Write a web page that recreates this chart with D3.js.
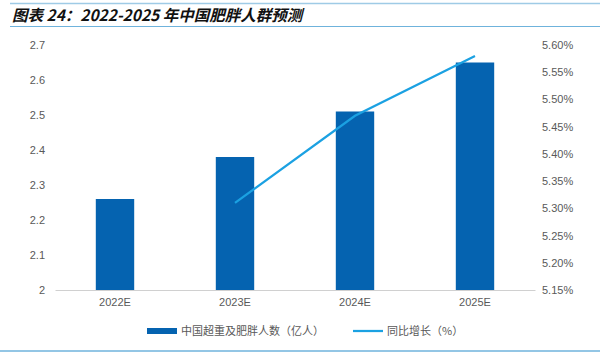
<!DOCTYPE html>
<html><head><meta charset="utf-8">
<script src="https://cdn.jsdelivr.net/npm/d3@7"></script>
<style>body{margin:0;background:#fff;}svg{display:block;font-family:"Liberation Sans",Arial,sans-serif;}</style>
</head><body>
<svg id="c" width="600" height="355"></svg>
<script>
const categories = ["2022E","2023E","2024E","2025E"];
const barValues = [2.26, 2.38, 2.51, 2.65];
const lineCategories = ["2023E","2024E","2025E"];
const lineValues = [5.31, 5.47, 5.58];
const leftTicks = [2,2.1,2.2,2.3,2.4,2.5,2.6,2.7];
const rightTicks = [5.15,5.20,5.25,5.30,5.35,5.40,5.45,5.50,5.55,5.60];
const titleText = "图表 24：2022-2025 年中国肥胖人群预测";
const legendBar = "中国超重及肥胖人数（亿人）";
const legendLine = "同比增长（%）";

const svg = d3.select("#c");
const m = {l:55, r:535, t:45, b:290};
const x = d3.scaleBand().domain(categories).range([m.l, m.r]).paddingInner(0.68).paddingOuter(0.34);
const yL = d3.scaleLinear().domain([2,2.7]).range([m.b, m.t]);
const yR = d3.scaleLinear().domain([5.15,5.60]).range([m.b, m.t]);

// frame lines
svg.append("line").attr("x1",10).attr("x2",600).attr("y1",3.5).attr("y2",3.5).attr("stroke","#9fcbe6").attr("stroke-width",1.5);
svg.append("line").attr("x1",10).attr("x2",600).attr("y1",26.5).attr("y2",26.5).attr("stroke","#6fb3dc").attr("stroke-width",1);
svg.append("line").attr("x1",0).attr("x2",600).attr("y1",351).attr("y2",351).attr("stroke","#6fb3dc").attr("stroke-width",1.5);
svg.append("text").attr("x",12).attr("y",21).attr("font-size",15.5).attr("font-weight","bold").attr("font-style","italic")
  .attr("font-family","'Noto Sans CJK SC','Liberation Sans',sans-serif").attr("fill","#111").text(titleText);

// left axis
const gL = svg.append("g").attr("transform",`translate(${m.l},0)`)
  .call(d3.axisLeft(yL).tickValues(leftTicks).tickSize(0).tickPadding(10).tickFormat(d3.format("")));
gL.select(".domain").remove();
gL.selectAll("text").attr("font-size",11).attr("fill","#595959").attr("font-family","'Liberation Sans',Arial,sans-serif");

// right axis
const gR = svg.append("g").attr("transform",`translate(${m.r},0)`)
  .call(d3.axisRight(yR).tickValues(rightTicks).tickSize(0).tickPadding(7).tickFormat(d=>d.toFixed(2)+"%"));
gR.select(".domain").remove();
gR.selectAll("text").attr("font-size",11).attr("fill","#595959").attr("font-family","'Liberation Sans',Arial,sans-serif");

// bars
svg.append("g").selectAll("rect").data(categories).join("rect")
  .attr("x",d=>x(d)).attr("width",x.bandwidth())
  .attr("y",(d,i)=>yL(barValues[i])).attr("height",(d,i)=>yL(2)-yL(barValues[i]))
  .attr("fill","#0563b0");

// x axis
const gX = svg.append("g").attr("transform",`translate(0,${m.b})`)
  .call(d3.axisBottom(x).tickSize(0).tickPadding(8));
gX.select(".domain").attr("stroke","#d0d0d0");
gX.selectAll("text").attr("font-size",11).attr("fill","#595959").attr("font-family","'Liberation Sans',Arial,sans-serif");

// line
const line = d3.line().x((d,i)=>x(lineCategories[i])+x.bandwidth()/2).y(d=>yR(d));
svg.append("path").datum(lineValues).attr("d",line).attr("fill","none").attr("stroke","#1ba1e2").attr("stroke-width",2.25);

// legend
const lg = svg.append("g").attr("font-family","'Noto Sans CJK SC',sans-serif").attr("font-size",11).attr("fill","#595959");
lg.append("rect").attr("x",147).attr("y",328).attr("width",30).attr("height",6).attr("fill","#0563b0");
lg.append("text").attr("x",181).attr("y",335).text(legendBar);
lg.append("line").attr("x1",353).attr("x2",383).attr("y1",331).attr("y2",331).attr("stroke","#1ba1e2").attr("stroke-width",2.25);
lg.append("text").attr("x",387).attr("y",335).text(legendLine);
</script>
</body></html>
